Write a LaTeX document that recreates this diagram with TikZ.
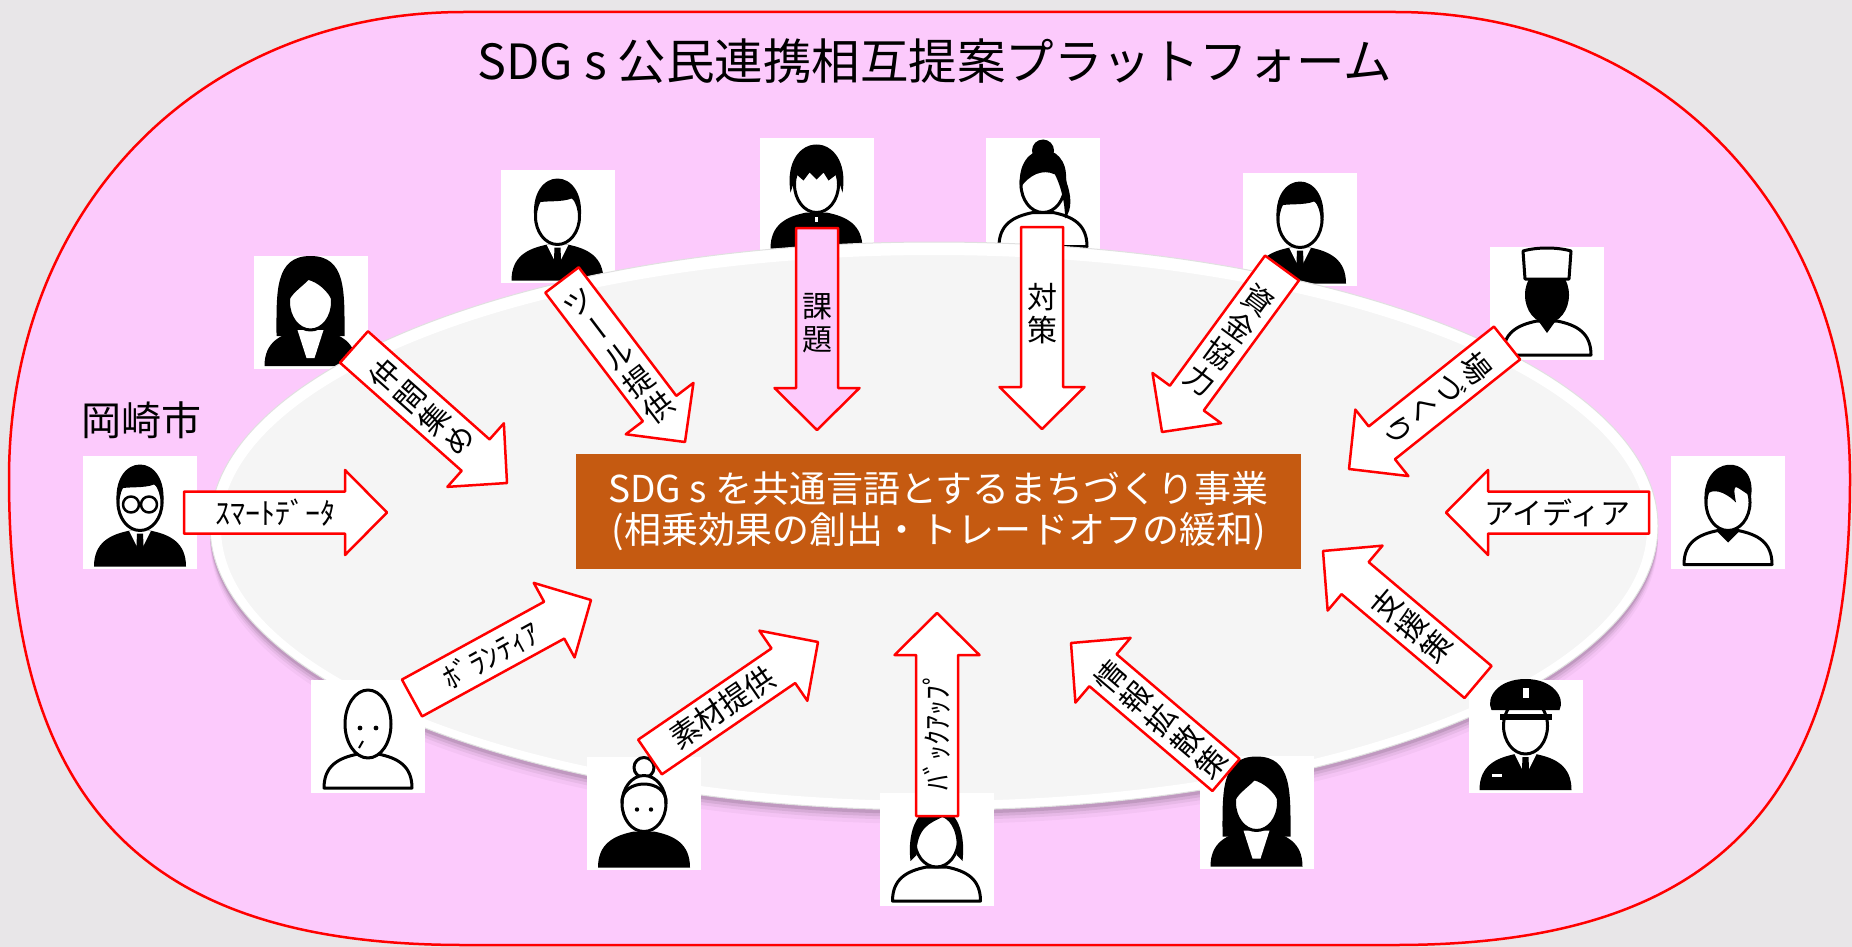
\documentclass[tikz,border=0pt]{standalone}
\usepackage{fontspec}
\setmainfont{Noto Sans CJK JP}
\newfontfamily\tatefont[RawFeature=+vert]{Noto Sans CJK JP}
\usetikzlibrary{calc}

\definecolor{bggray}{RGB}{232,230,232}
\definecolor{platpink}{RGB}{252,202,252}
\definecolor{tablegray}{RGB}{245,245,245}
\definecolor{jigyo}{RGB}{197,90,17}

\begin{document}
\begin{tikzpicture}[x=1pt, y=-1pt, line join=round,
    every node/.style={inner sep=0pt},
    blockarrow/.style={draw=red, fill=white, line width=2.5pt, to path={
      ($(\tikztostart)!21pt!90:(\tikztotarget)$)
      -- ($($(\tikztotarget)!42pt!(\tikztostart)$)!21pt!-90:(\tikztostart)$)
      -- ($($(\tikztotarget)!42pt!(\tikztostart)$)!42.5pt!-90:(\tikztostart)$)
      -- (\tikztotarget)
      -- ($($(\tikztotarget)!42pt!(\tikztostart)$)!42.5pt!90:(\tikztostart)$)
      -- ($($(\tikztotarget)!42pt!(\tikztostart)$)!21pt!90:(\tikztostart)$)
      -- ($(\tikztostart)!21pt!-90:(\tikztotarget)$) -- cycle}},
    yoko/.style={font=\fontsize{30}{33}\selectfont},
    tate/.style={font=\tatefont\fontsize{30}{33}\selectfont, align=center},
    iconbox/.style={fill=white, minimum width=114pt, minimum height=113pt},
    % pieces of the person icons
    coat/.pic={\fill (-46,54) .. controls (-46,30) and (-30,22) .. (-10,18)
      -- (10,18) .. controls (30,22) and (46,30) .. (46,54) -- cycle;},
    suit/.pic={\pic {coat};
      \fill[white] (-11,18) -- (0,40) -- (11,18) -- cycle;
      \fill (-3,21) -- (3,21) -- (4,44) -- (0,50) -- (-4,44) -- cycle;},
    shirt/.pic={\filldraw[fill=white, line width=3pt] (-44,52) .. controls (-44,30) and (-30,22) .. (-10,18)
      -- (10,18) .. controls (30,22) and (44,30) .. (44,52) -- cycle;},
    face/.pic={\filldraw[fill=white, line width=3pt] (0,-10) ellipse [x radius=22, y radius=28];},
    shorthair/.pic={\fill (-23,-6) .. controls (-30,-62) and (30,-62) .. (23,-6)
      .. controls (21,-20) and (19,-26) .. (14,-28) .. controls (4,-24) and (-12,-26) .. (-19,-24)
      .. controls (-21,-20) and (-22,-12) .. cycle;},
    % the persons
    suitman/.pic={\pic {suit}; \pic {face}; \pic {shorthair};},
    lady/.pic={\fill (0,-56) .. controls (-36,-56) and (-34,-20) .. (-34,24) -- (34,24)
        .. controls (34,-20) and (36,-56) .. (0,-56) -- cycle;
      \pic {coat};
      \fill[white] (-13,18) -- (-4,46) -- (4,46) -- (13,18) -- cycle;
      \pic {face};
      \fill (-23,-8) .. controls (-28,-58) and (28,-58) .. (23,-8)
        .. controls (18,-22) and (6,-30) .. (-2,-32) .. controls (-10,-24) and (-20,-18) .. cycle;},
    boy/.pic={\pic {coat}; \fill[white] (-1.5,22) rectangle (1.5,27); \pic {face};
      \fill (-26,-2) .. controls (-36,-66) and (36,-66) .. (26,-2) -- (20,-20) -- (12,-14)
        -- (7,-22) -- (0,-15) -- (-7,-22) -- (-13,-14) -- (-20,-20) -- cycle;},
    ponytail/.pic={\pic {shirt}; \pic {face};
      \fill (0,-44) ellipse [x radius=11, y radius=11];
      \fill (-23,-6) .. controls (-28,-56) and (26,-56) .. (23,-14)
        .. controls (28,0) and (30,14) .. (22,24) .. controls (22,8) and (18,-8) .. (12,-20)
        .. controls (0,-26) and (-14,-20) .. cycle;},
    chef/.pic={\pic {shirt};
      \fill (0,-8) ellipse [x radius=22, y radius=28];
      \fill (-10,16) -- (0,30) -- (10,16) -- cycle;
      \filldraw[fill=white, line width=3pt] (-22,-24) -- (-24,-52) .. controls (-10,-56) and (10,-56) .. (24,-52)
        -- (22,-24) -- cycle;},
    youth/.pic={\pic {shirt}; \fill (-11,19) -- (0,30) -- (11,19) -- cycle; \pic {face};
      \fill (-23,-6) .. controls (-30,-60) and (30,-60) .. (23,-16) -- (14,-22)
        .. controls (8,-26) and (4,-30) .. (8,-10) .. controls (-4,-22) and (-16,-24) .. (-21,-18) -- cycle;},
    police/.pic={\pic {suit}; \pic {face};
      \fill (-34,-26) .. controls (-40,-38) and (-28,-57) .. (0,-57)
        .. controls (28,-57) and (40,-38) .. (34,-26) -- cycle;
      \fill (-26,-22) rectangle (26,-16);
      \fill[white] (-3,-48) rectangle (3,-38);
      \fill[white] (-34,38) rectangle (-24,41);},
    bob/.pic={\pic {shirt}; \pic {face};
      \fill (-26,12) .. controls (-34,-60) and (34,-60) .. (26,12) -- (20,6)
        .. controls (22,-14) and (16,-28) .. (6,-32) .. controls (-6,-26) and (-20,-22) .. (-20,6) -- cycle;},
    oldlady/.pic={\pic {coat};
      \filldraw[fill=white, line width=3pt] (0,-46) circle [radius=10];
      \pic {face};
      \draw[line width=3pt] (-22,-10) .. controls (-24,-36) and (24,-36) .. (22,-10);
      \fill (-7,-4) circle [radius=2.2] (7,-4) circle [radius=2.2];},
    bald/.pic={\pic {shirt};
      \filldraw[fill=white, line width=3pt] (0,-12) ellipse [x radius=23, y radius=34];
      \fill (-8,-8) circle [radius=2.4] (8,-8) circle [radius=2.4];
      \draw[line width=2pt] (-9,12) -- (-5,5);}]

  \useasboundingbox (0,0) rectangle (1852,947);
  \fill[bggray] (0,0) rectangle (1852,947);

  % the platform
  \filldraw[fill=platpink, draw=red, line width=2.5pt]
    (464,12) -- (1395,12) .. controls (1659,12) and (1850,208) .. (1850,478.5)
    .. controls (1850,805) and (1713.5,945) .. (1395,945) -- (464,945)
    .. controls (145.5,945) and (9,805) .. (9,478.5)
    .. controls (9,208) and (200,12) .. cycle;
  \node[font=\fontsize{48.5}{52}\selectfont] (title) at (935,61) {SDG s 公民連携相互提案プラットフォーム};
  \node[font=\fontsize{40}{44}\selectfont] (okazaki) at (141,420) {岡崎市};

  % people behind the table
  \node[iconbox] (nakama) at (310.5,312) {};  \pic at (nakama) {lady};
  \node[iconbox] (tool) at (557.5,226.5) {};  \pic at (tool) {suitman};
  \node[iconbox] (kadai) at (816.5,194.5) {}; \pic at (kadai) {boy};
  \node[iconbox] (taisaku) at (1043,194.5) {}; \pic at (taisaku) {ponytail};
  \node[iconbox] (shikin) at (1300,229.5) {}; \pic at (shikin) {suitman};
  \node[iconbox] (ba) at (1547,303) {};       \pic at (ba) {chef};
  \node[iconbox] (idea) at (1728,512.5) {};   \pic at (idea) {youth};
  \node[iconbox] (smart) at (140,512.5) {};   \pic at (smart) {suitman};
  \draw[line width=2.5pt] ($(smart)+(-9,-8)$) circle [radius=8] ($(smart)+(9,-8)$) circle [radius=8];

  % the table
  \foreach \d/\o in {14/0.03,10/0.05,7/0.07,4/0.1}
    \fill[black, opacity=\o] (934,526+\d) ellipse [x radius=724, y radius=284];
  \filldraw[fill=white, draw=black!12, line width=1pt] (934,526) ellipse [x radius=724, y radius=284];
  \filldraw[fill=tablegray, draw=white, line width=2pt] (934,528) ellipse [x radius=714, y radius=274];

  % people in front of the table
  \node[iconbox] (shien) at (1525.5,736) {};   \pic at (shien) {police};
  \node[iconbox] (joho) at (1256.5,812.5) {};  \pic at (joho) {lady};
  \node[iconbox] (backup) at (936.5,849) {};   \pic at (backup) {bob};
  \node[iconbox] (sozai) at (644,813.5) {};    \pic at (sozai) {oldlady};
  \node[iconbox] (volunteer) at (368,736) {};  \pic at (volunteer) {bald};

  \node[fill=jigyo, minimum width=725pt, minimum height=115pt, text=white, align=center,
    font=\fontsize{37}{41}\selectfont] (jigyo) at (938.5,511.5)
    {SDG s を共通言語とするまちづくり事業\\(相乗効果の創出・トレードオフの緩和)};

  % proposals flowing in
  \coordinate (nakama-a) at (354,347);    \coordinate (nakama-b) at (507,483);
  \coordinate (tool-a) at (562,280);      \coordinate (tool-b) at (685,442);
  \coordinate (kadai-a) at (817,228);     \coordinate (kadai-b) at (817,430);
  \coordinate (taisaku-a) at (1042,227);  \coordinate (taisaku-b) at (1042,429);
  \coordinate (shikin-a) at (1282,268);   \coordinate (shikin-b) at (1162,432);
  \coordinate (ba-a) at (1507,343);       \coordinate (ba-b) at (1349,469);
  \coordinate (idea-a) at (1649,512.5);   \coordinate (idea-b) at (1446,512.5);
  \coordinate (shien-a) at (1478,682);    \coordinate (shien-b) at (1323,551);
  \coordinate (joho-a) at (1226,775);     \coordinate (joho-b) at (1071,643);
  \coordinate (backup-a) at (937,816);    \coordinate (backup-b) at (937,613);
  \coordinate (sozai-a) at (650,757);     \coordinate (sozai-b) at (818,642);
  \coordinate (volunteer-a) at (412,698); \coordinate (volunteer-b) at (591,600);
  \coordinate (smart-a) at (184,512.5);   \coordinate (smart-b) at (387,512.5);

  \draw[blockarrow] (nakama-a) to (nakama-b);
  \draw[blockarrow] (tool-a) to (tool-b);
  \draw[blockarrow, fill=platpink] (kadai-a) to (kadai-b);
  \draw[blockarrow] (taisaku-a) to (taisaku-b);
  \draw[blockarrow] (shikin-a) to (shikin-b);
  \draw[blockarrow] (ba-a) to (ba-b);
  \draw[blockarrow] (idea-a) to (idea-b);
  \draw[blockarrow] (shien-a) to (shien-b);
  \draw[blockarrow] (joho-a) to (joho-b);
  \draw[blockarrow] (backup-a) to (backup-b);
  \draw[blockarrow] (sozai-a) to (sozai-b);
  \draw[blockarrow] (volunteer-a) to (volunteer-b);
  \draw[blockarrow] (smart-a) to (smart-b);

  \node[tate, rotate=48.4] at ($(nakama-a)!.44!(nakama-b)$) {仲\\間\\集\\め};
  \node[tate, rotate=37.2] at ($(tool-a)!.47!(tool-b)$) {ツ\\ー\\ル\\提\\供};
  \node[tate] at ($(kadai-a)!.47!(kadai-b)$) {課\\題};
  \node[tate] at ($(taisaku-a)!.43!(taisaku-b)$) {対\\策};
  \node[tate, rotate=-36.2] at ($(shikin-a)!.44!(shikin-b)$) {資\\金\\協\\力};
  \node[tate, rotate=-51.4] at ($(ba-a)!.44!(ba-b)$) {場\\づ\\く\\り};
  \node[yoko] at ($(idea-a)!.45!(idea-b)$) {アイディア};
  \node[tate, rotate=49.8] at ($(shien-a)!.43!(shien-b)$) {支\\援\\策};
  \node[tate, rotate=49.6] at ($(joho-a)!.42!(joho-b)$) {情\\報\\拡\\散\\策};
  \node[yoko, rotate=90] at ($(backup-a)!.42!(backup-b)$) {ﾊﾞｯｸｱｯﾌﾟ};
  \node[yoko, rotate=34.4] at ($(sozai-a)!.43!(sozai-b)$) {素材提供};
  \node[yoko, rotate=28.7] at ($(volunteer-a)!.44!(volunteer-b)$) {ﾎﾞﾗﾝﾃｨｱ};
  \node[yoko] at ($(smart-a)!.45!(smart-b)$) {ｽﾏｰﾄﾃﾞｰﾀ};
\end{tikzpicture}
\end{document}
